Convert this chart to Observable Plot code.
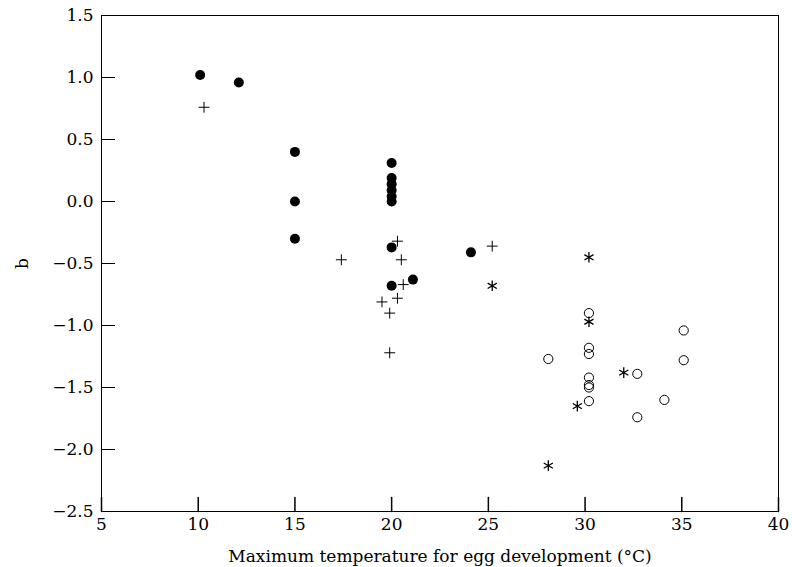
<!DOCTYPE html>
<html><head><meta charset="utf-8">
<script src="https://cdn.jsdelivr.net/npm/d3@7"></script>
<script src="https://cdn.jsdelivr.net/npm/@observablehq/plot@0.6"></script>
<style>body{margin:0;background:#fff}</style>
</head><body><div id="chart"></div>
<script>
// Series: [max temperature °C, b]
const filledDots = [[10.1,1.02],[12.1,0.96],[15,0.40],[15,0.0],[15,-0.30],[20,0.31],[20,0.19],[20,0.14],[20,0.09],[20,0.04],[20,0.0],[20,-0.37],[20,-0.68],[21.1,-0.63],[24.1,-0.41]];
const plusPoints = [[10.3,0.76],[17.4,-0.47],[20.3,-0.32],[20.5,-0.47],[20.6,-0.67],[19.5,-0.81],[20.3,-0.78],[19.9,-0.90],[19.9,-1.22],[25.2,-0.36]];
const starPoints = [[25.2,-0.68],[30.2,-0.45],[30.2,-0.97],[32.0,-1.38],[29.6,-1.65],[28.1,-2.13]];
const openCircles = [[28.1,-1.27],[30.2,-0.90],[30.2,-1.18],[30.2,-1.23],[30.2,-1.42],[30.2,-1.48],[30.2,-1.50],[30.2,-1.61],[32.7,-1.39],[32.7,-1.74],[34.1,-1.60],[35.1,-1.04],[35.1,-1.28]];
const xTicks = [5,10,15,20,25,30,35,40];
const yTicks = [1.5,1.0,0.5,0.0,-0.5,-1.0,-1.5,-2.0,-2.5];
const xTitle = "Maximum temperature for egg development (°C)";
const yTitle = "b";

const px = d => d[0], py = d => d[1];
const lineShape = {draw(context, l) { context.moveTo(0, 0); context.lineTo(0, -l); }};
const chart = Plot.plot({
  width: 792, height: 567,
  marginLeft: 101, marginRight: 14, marginTop: 15, marginBottom: 56,
  style: {fontFamily: "DejaVu Serif", fontSize: "17px"},
  x: {domain: [5, 40]},
  y: {domain: [-2.5, 1.5]},
  marks: [
    Plot.frame(),
    Plot.vector(xTicks, {x: d => d, frameAnchor: "bottom", anchor: "start", length: 14, rotate: 0, shape: lineShape, stroke: "black"}),
    Plot.axisY(yTicks, {tickSize: 14, dx: 14, tickFormat: () => "", label: null, stroke: "black"}),
    Plot.axisX(xTicks, {tickSize: 0, tickPadding: 6, tickFormat: d => String(d), label: xTitle, labelAnchor: "center", labelOffset: 50, labelArrow: false}),
    Plot.axisY(yTicks, {tickSize: 0, tickPadding: 8, tickFormat: d3.format(".1f"), label: yTitle, labelAnchor: "center", labelOffset: 86, labelArrow: false}),
    Plot.dot(openCircles, {x: px, y: py, r: 4.6, fill: "none", stroke: "black", strokeWidth: 1}),
    Plot.dot(plusPoints, {x: px, y: py, symbol: "plus", r: 3.6, stroke: "black", strokeWidth: 1}),
    Plot.dot(starPoints, {x: px, y: py, symbol: "asterisk", r: 5, stroke: "black", strokeWidth: 1.3}),
    Plot.dot(filledDots, {x: px, y: py, r: 5, fill: "black", stroke: "none"})
  ]
});
document.getElementById("chart").appendChild(chart);
</script>
</body></html>
